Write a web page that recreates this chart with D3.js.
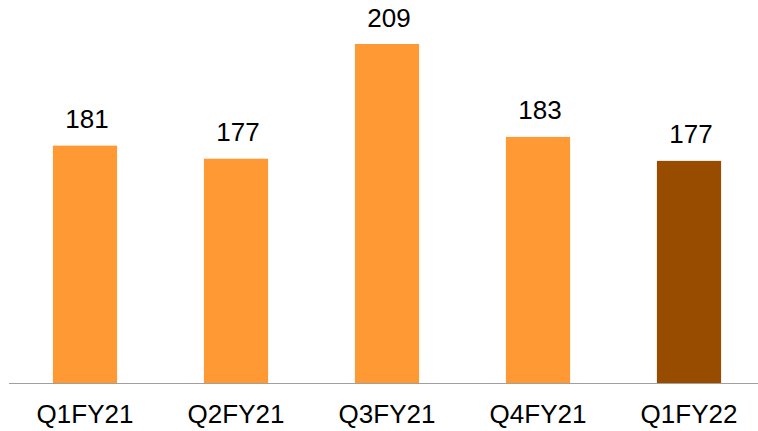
<!DOCTYPE html>
<html><head><meta charset="utf-8">
<script src="https://cdn.jsdelivr.net/npm/d3@7"></script>
<style>html,body{margin:0;padding:0;background:#fff;}svg{display:block;}</style>
</head><body>
<script>
const categories = ["Q1FY21","Q2FY21","Q3FY21","Q4FY21","Q1FY22"];
const values = [181.0, 177.4, 209.0, 183.4, 176.8];
const labels = ["181","177","209","183","177"];
const highlight = [false,false,false,false,true];

const W = 758, H = 431;
const svg = d3.select("body").append("svg").attr("width",W).attr("height",H);

const x = d3.scaleBand().domain(categories).range([9.5, 764.5]).paddingInner(0.575).paddingOuter(0.2875);
const y = d3.scaleLinear().domain([115.6, 209]).range([383, 44]);

svg.selectAll("rect.bar").data(categories).join("rect")
  .attr("class","bar")
  .attr("x", d => x(d))
  .attr("width", x.bandwidth())
  .attr("y", (d,i) => y(values[i]))
  .attr("height", (d,i) => y.range()[0] - y(values[i]))
  .attr("fill", (d,i) => highlight[i] ? "#984C00" : "#FF9933");

svg.selectAll("text.val").data(categories).join("text")
  .attr("class","val")
  .attr("x", d => x(d) + x.bandwidth()/2 + 2)
  .attr("y", (d,i) => y(values[i]) - 17.5)
  .attr("text-anchor","middle")
  .attr("font-family","'Liberation Sans', Arial, sans-serif")
  .attr("font-size", 26)
  .attr("fill","#000")
  .text((d,i) => labels[i]);

const axis = d3.axisBottom(x).tickSize(0).tickPadding(0);
const g = svg.append("g").attr("transform","translate(0,383)").call(axis);
g.select(".domain").attr("d","M9,0.5H758").attr("stroke","#a0a0a0").attr("stroke-width",1.2);
g.selectAll(".tick text")
  .attr("dy", null)
  .attr("y", 40)
  .attr("font-family","'Liberation Sans', Arial, sans-serif")
  .attr("font-size", 26)
  .attr("fill","#000");
</script>
</body></html>
